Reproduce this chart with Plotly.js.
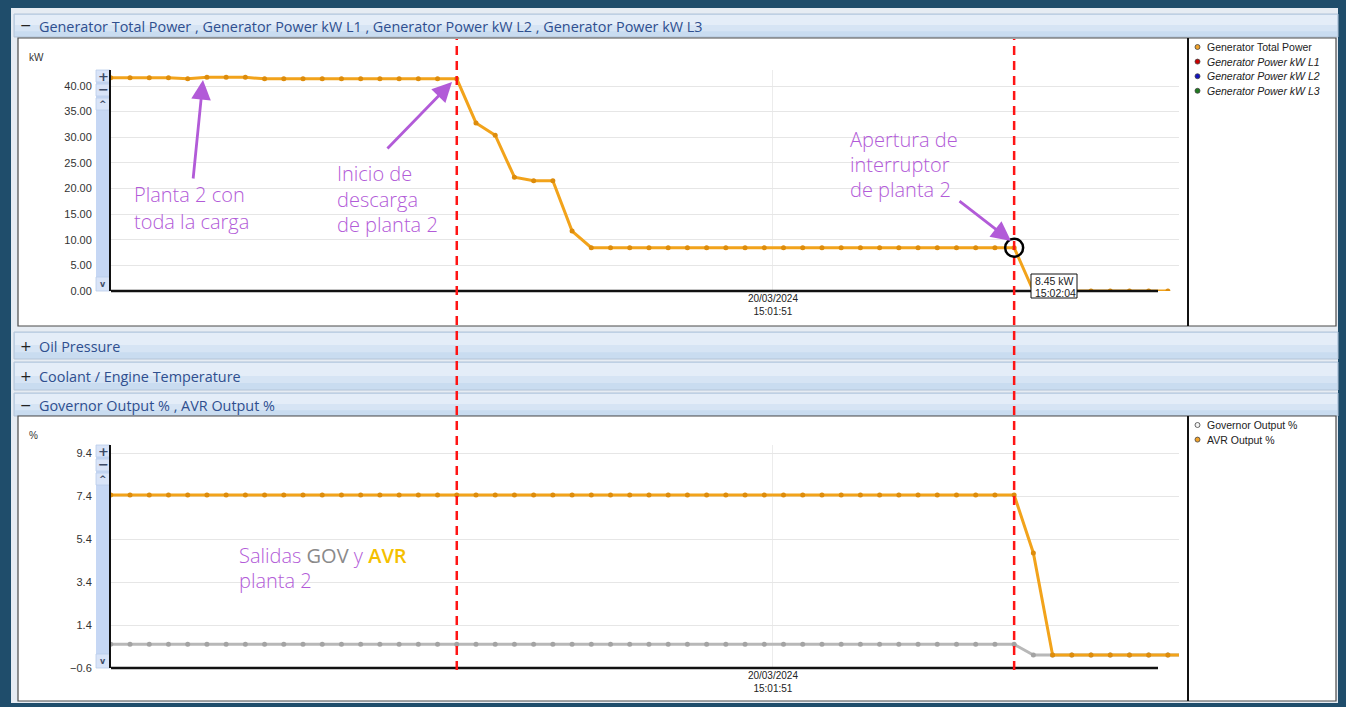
<!DOCTYPE html>
<html>
<head>
<meta charset="utf-8">
<script src="https://cdn.plot.ly/plotly-3.0.1.min.js"></script>
<style>
html,body{margin:0;padding:0;background:#1f4d6b;overflow:hidden;}
#chart{width:1346px;height:707px;}
</style>
</head>
<body>
<div id="chart"></div>
<script>
// ---------------- DATA ----------------
const sampleNo = Array.from({length: 57}, (_, i) => i);   // sample number (about 1 s apart)

const totalPower = [41.6, 41.6, 41.6, 41.6, 41.4, 41.7, 41.7, 41.7, 41.4, 41.4,
                    41.4, 41.4, 41.4, 41.4, 41.4, 41.4, 41.4, 41.4, 41.4, 32.8,
                    30.4, 22.2, 21.5, 21.5, 11.7, 8.45, 8.45, 8.45, 8.45, 8.45,
                    8.45, 8.45, 8.45, 8.45, 8.45, 8.45, 8.45, 8.45, 8.45, 8.45,
                    8.45, 8.45, 8.45, 8.45, 8.45, 8.45, 8.45, 8.45, 0, 0,
                    0, 0, 0, 0, 0, 0];

const governorOut = [0.5, 0.5, 0.5, 0.5, 0.5, 0.5, 0.5, 0.5, 0.5, 0.5,
                     0.5, 0.5, 0.5, 0.5, 0.5, 0.5, 0.5, 0.5, 0.5, 0.5,
                     0.5, 0.5, 0.5, 0.5, 0.5, 0.5, 0.5, 0.5, 0.5, 0.5,
                     0.5, 0.5, 0.5, 0.5, 0.5, 0.5, 0.5, 0.5, 0.5, 0.5,
                     0.5, 0.5, 0.5, 0.5, 0.5, 0.5, 0.5, 0.5, 0, 0,
                     0, 0, 0, 0, 0, 0, 0];

const avrOut = [7.45, 7.45, 7.45, 7.45, 7.45, 7.45, 7.45, 7.45, 7.45, 7.45,
                7.45, 7.45, 7.45, 7.45, 7.45, 7.45, 7.45, 7.45, 7.45, 7.45,
                7.45, 7.45, 7.45, 7.45, 7.45, 7.45, 7.45, 7.45, 7.45, 7.45,
                7.45, 7.45, 7.45, 7.45, 7.45, 7.45, 7.45, 7.45, 7.45, 7.45,
                7.45, 7.45, 7.45, 7.45, 7.45, 7.45, 7.45, 7.45, 4.75, 0,
                0, 0, 0, 0, 0, 0, 0];

const kwTicks = [0, 5, 10, 15, 20, 25, 30, 35, 40];
const pctTicks = [-0.6, 1.4, 3.4, 5.4, 7.4, 9.4];
const dateTickLabel = ['20/03/2024<br>15:01:51'];
const dateTickSample = [34.45];
const markerSamples = [18, 47];          // start of unloading, breaker opening
const tipSample = 47;
const tipTime = '15:02:04';

const legendTop = ['Generator Total Power', '<i>Generator Power kW L1</i>', '<i>Generator Power kW L2</i>', '<i>Generator Power kW L3</i>'];
const legendTopColors = ['#f0a22a', '#c80000', '#1414c0', '#1e7a1e'];
const legendBottom = ['Governor Output %', 'AVR Output %'];
const legendBottomColors = ['#f4f4f4', '#f0a22a'];

// ---------------- HELPERS ----------------
const W = 1346, H = 707;
const X = p => p / W;
const Y = p => 1 - p / H;
const shapes = [];
const ann = [];
function rect(x0, y0, x1, y1, fill, line, lw, layer) {
  shapes.push({type: 'rect', xref: 'paper', yref: 'paper', x0: X(x0), x1: X(x1), y0: Y(y1), y1: Y(y0),
    fillcolor: fill, line: {color: line || fill, width: lw === undefined ? 0 : lw}, layer: layer || 'below'});
}
function line(x0, y0, x1, y1, color, w, dash, layer) {
  shapes.push({type: 'line', xref: 'paper', yref: 'paper', x0: X(x0), x1: X(x1), y0: Y(y0), y1: Y(y1),
    line: {color: color, width: w, dash: dash || 'solid'}, layer: layer || 'above'});
}
function text(x, y, t, size, color, anchor, family, extra) {
  ann.push(Object.assign({xref: 'paper', yref: 'paper', x: X(x), y: Y(y), text: t, showarrow: false,
    xanchor: anchor || 'left', yanchor: 'middle', align: 'left',
    font: {size: size, color: color, family: family || 'Liberation Sans, Arial, sans-serif'}}, extra || {}));
}

// ---------------- UI CHROME ----------------
rect(11, 8, 1338, 703, '#e6ecf3');
function header(y0, y1, sym, label) {
  rect(14, y0, 1338, y1, '#c9dcf0', '#b3c4d8', 1);
  rect(15, y0 + 1, 1337, y0 + (y1 - y0) * 0.5, '#e4edf8');
  rect(15, y0 + (y1 - y0) * 0.5, 1337, y0 + (y1 - y0) * 0.75, '#d6e4f4');
  text(26, (y0 + y1) / 2, sym, 14, '#222222', 'center', 'DejaVu Sans, sans-serif');
  text(37, (y0 + y1) / 2 + 0.5, label, 14.4, '#2f4f8f', 'left', 'Open Sans, sans-serif');
}
header(14, 37, '\u2212', 'Generator Total Power , Generator Power kW L1 , Generator Power kW L2 , Generator Power kW L3');
rect(18, 38, 1336, 326, '#ffffff', '#4a4a4a', 1.2);
header(332, 359, '+', 'Oil Pressure');
header(362, 390, '+', 'Coolant / Engine Temperature');
header(393, 416, '\u2212', 'Governor Output % , AVR Output %');
rect(18, 416, 1336, 701, '#ffffff', '#4a4a4a', 1.2);
line(1188, 38, 1188, 326, '#111111', 2);
line(1188, 416, 1188, 701, '#111111', 2);

// scroll/zoom strips
function strip(y0, y1) {
  rect(96, y0, 110, y1, '#c6d7f4');
  const btn = (a, b, s, sz) => {
    rect(96, a, 110, b, '#d9e4f8', '#b9cbea', 0.8);
    text(103, (a + b) / 2, s, sz, '#3d4a66', 'center', 'DejaVu Sans, sans-serif', {font: {size: sz, color: '#3d4a66', family: 'DejaVu Sans, sans-serif', weight: 'bold'}});
  };
  btn(y0, y0 + 12, '+', 13);
  btn(y0 + 14, y0 + 26, '\u2212', 13);
  btn(y0 + 28, y0 + 40, '^', 9);
  btn(y1 - 14, y1, 'v', 8);
}
strip(70, 291);
strip(445, 668);

// axis units
text(27, 57, 'kW', 10, '#333333');
text(27, 435, '%', 10, '#333333');

// bottom axis lines (shorter than the grid, as in the original)
line(111, 291, 1158, 291, '#111111', 2.5);
line(111, 668, 1158, 668, '#111111', 2.5);

// legends
legendTop.forEach((t, i) => {
  const yy = 47 + i * 14.6;
  shapes.push({type: 'circle', xref: 'paper', yref: 'paper', x0: X(1195), x1: X(1200), y0: Y(yy + 2.5), y1: Y(yy - 2.5),
    fillcolor: legendTopColors[i], line: {color: '#444', width: 0.8}, layer: 'above'});
  text(1205, yy, t, 10.5, '#222222');
});
legendBottom.forEach((t, i) => {
  const yy = 425 + i * 14.6;
  shapes.push({type: 'circle', xref: 'paper', yref: 'paper', x0: X(1195), x1: X(1200), y0: Y(yy + 2.5), y1: Y(yy - 2.5),
    fillcolor: legendBottomColors[i], line: {color: '#444', width: 0.8}, layer: 'above'});
  text(1205, yy, t, 10.5, '#222222');
});

// ---------------- EVENT MARKS ----------------
markerSamples.forEach(s => {
  shapes.push({type: 'line', xref: 'x', yref: 'paper', x0: s, x1: s, y0: Y(670), y1: Y(39),
    line: {color: '#ff1414', width: 2.5, dash: '9px,6px'}, layer: 'above'});
});
shapes.push({type: 'circle', xref: 'x', yref: 'y', xsizemode: 'pixel', ysizemode: 'pixel',
  xanchor: tipSample, yanchor: totalPower[tipSample], x0: -9, x1: 9, y0: -9, y1: 9,
  line: {color: '#000000', width: 2.5}, layer: 'above'});
// tooltip
rect(1031, 274, 1077, 298, '#ffffff', '#111111', 1, 'above');
text(1033, 280.5, totalPower[tipSample].toFixed(2) + ' kW', 10.5, '#222222');
text(1033, 292.5, tipTime, 10.5, '#222222');

// purple notes
const purple = '#b25bd8';
const pf = 'Open Sans, sans-serif';
[['Planta 2 con', 134, 195], ['toda la carga', 134, 221],
 ['Inicio de', 337, 173], ['descarga', 337, 199], ['de planta 2', 337, 224],
 ['Apertura de', 850, 139], ['interruptor', 850, 165], ['de planta 2', 850, 190],
 ['Salidas <span style="color:#8a8a8a;font-weight:400">GOV</span> y <span style="color:#f5c000;font-weight:600">AVR</span>', 239, 555], ['planta 2', 239, 580]
].forEach(d => text(d[1] - 2, d[2], d[0], 20, purple, 'left', pf, {font: {size: 20, color: purple, family: pf, weight: 300}}));

function arrow(hx, hy, tx, ty) {
  ann.push({xref: 'paper', yref: 'paper', x: X(hx), y: Y(hy), ax: tx - hx, ay: ty - hy, text: '',
    showarrow: true, arrowhead: 2, arrowsize: 1.4, arrowwidth: 2.8, arrowcolor: purple, standoff: 0});
}
arrow(203, 80, 193, 180);
arrow(452, 82, 386, 150);
arrow(1011, 241, 958, 200);

// ---------------- PLOT ----------------
const xr = [0.01, (1179 - 110.8) / 19.22];
const axX = {
  domain: [X(111), X(1179)], range: xr, showgrid: true, gridcolor: '#ececec', gridwidth: 1,
  zeroline: false, showline: false, ticks: '', tickvals: dateTickSample, ticktext: dateTickLabel,
  tickfont: {size: 10, color: '#222222', family: 'Liberation Sans, Arial, sans-serif'}, fixedrange: true
};
const axY = (dom, rng, tv, fmt) => ({
  domain: dom, range: rng, tickvals: tv, tickformat: fmt, showgrid: true, gridcolor: '#e6e6e6',
  zeroline: false, showline: true, linecolor: '#111111', linewidth: 2, ticks: '', ticklabelstandoff: 15,
  tickfont: {size: 11, color: '#333333', family: 'Liberation Sans, Arial, sans-serif'}, fixedrange: true
});

const traces = [
  {x: sampleNo.slice(0, totalPower.length), y: totalPower, xaxis: 'x', yaxis: 'y', mode: 'lines+markers',
   name: 'Generator Total Power', line: {color: '#f2a31b', width: 3}, marker: {color: '#dd8c0c', size: 5}},
  {x: sampleNo, y: governorOut, xaxis: 'x2', yaxis: 'y2', mode: 'lines+markers',
   name: 'Governor Output %', line: {color: '#b8b8b8', width: 3}, marker: {color: '#a3a3a3', size: 5}},
  {x: sampleNo, y: avrOut, xaxis: 'x2', yaxis: 'y2', mode: 'lines+markers',
   name: 'AVR Output %', line: {color: '#f2a31b', width: 3}, marker: {color: '#dd8c0c', size: 5}}
];

const layout = {
  width: W, height: H, autosize: false, margin: {l: 0, r: 0, t: 0, b: 0},
  paper_bgcolor: '#1f4d6b', plot_bgcolor: 'rgba(0,0,0,0)', showlegend: false, hovermode: false,
  xaxis: Object.assign({}, axX, {anchor: 'y'}),
  yaxis: Object.assign(axY([Y(291), Y(70)], [0, (291 - 70) / 5.125], kwTicks, '.2f'), {anchor: 'x'}),
  xaxis2: Object.assign({}, axX, {anchor: 'y2'}),
  yaxis2: Object.assign(axY([Y(668), Y(445)], [-0.6, -0.6 + (668 - 445) / 21.5], pctTicks, '.1f'), {anchor: 'x2'}),
  shapes: shapes, annotations: ann
};

Plotly.newPlot('chart', traces, layout, {staticPlot: true, displayModeBar: false});
</script>
</body>
</html>
